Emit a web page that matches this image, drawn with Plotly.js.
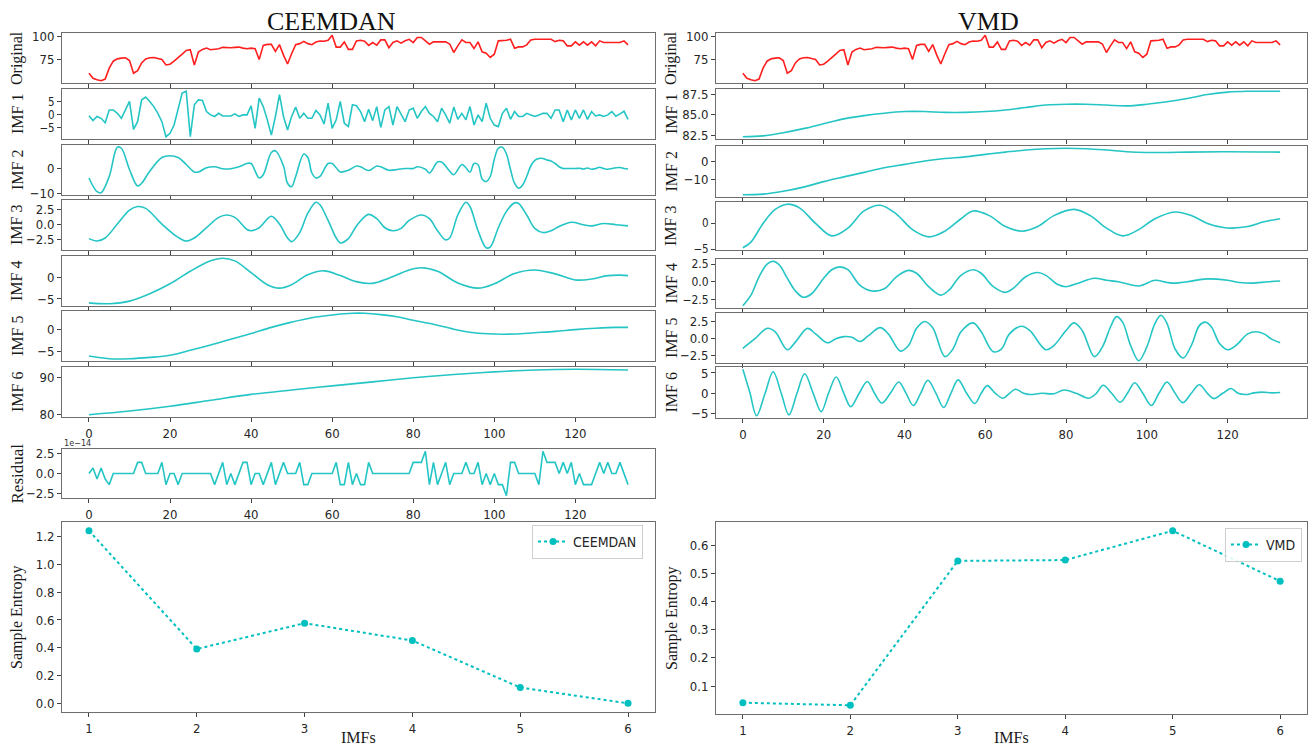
<!DOCTYPE html>
<html>
<head>
<meta charset="utf-8">
<script src="https://cdn.plot.ly/plotly-3.0.1.min.js"></script>
<style>
html,body{margin:0;padding:0;background:#fff;}
#chart{width:1311px;height:746px;}
</style>
</head>
<body>
<div id="chart"></div>
<script>
// ---------------- DATA ----------------
// Original series (same for both decompositions), one value per sample 0..133
const original = [60.5,55.1,53.6,52.5,54.3,66,73.5,76,76.8,77.2,74.2,60.5,63.4,71.7,76,77.2,77.5,76.8,75.4,69.5,
70.3,73.5,76.8,81.1,85.1,85.8,69.5,83.3,86.2,87.6,85.8,86.2,86.9,88.4,88,88,88.4,88.7,87.6,86.9,
87.6,86.9,75.4,90.5,91.6,91.6,84,91.3,80,70.5,81.5,91.3,92.4,94.9,92.4,91.3,94.2,95.3,94.9,96,
101.4,88.7,88.7,94.2,86.2,86.2,95.3,96,94.9,90.5,93.6,90.7,96.4,96.4,88,93.6,95.4,93,95.4,97,
93.6,99,99,95.4,91.8,94.3,94.3,93.6,94.3,92,82.9,90,96.4,93.6,93.6,87.1,94.3,83.6,82.1,77.5,
81,95.4,95.4,96,97.1,87.5,88.9,88.9,91.1,96.4,97.1,97.1,97.1,97.1,97.1,94.6,96,95.4,90,90,
94.3,90.7,94.3,90.7,94.3,90,95.4,93.6,93.6,93,93.6,93.6,95.4,91.1];

// CEEMDAN components
const ceemdanImf1 = [-0.3,-2.2,-0.6,-1.3,-3,1.9,1.9,0.6,-1.3,2,5.2,-5.6,-2.6,5.8,6.9,5.2,3.2,0.6,-2.6,-8.4,
-7.1,-3.9,1.9,8.4,9.1,-8.4,3.9,5.8,5.6,1.3,0,-0.6,0.6,-0.4,-0.4,-0.4,0.4,-0.6,0,0,
3.5,-5.2,6.5,3.2,-1.9,-7.8,-0.6,7.8,-0.6,-5.8,-0.6,3,-1.3,0.6,-1.3,-1.3,1.7,0,-3.5,4.5,
-5.2,-1.9,5.2,-3.2,-4.5,3.9,3.5,1.3,-2.6,2.2,-2.2,3.2,-4.8,1.9,3.2,-3.9,3.2,0,-2.6,1.9,
2.6,-1.3,1.3,3.2,0.6,-0.6,-2.6,2.6,0,-3.2,3,-1.7,0.6,-1.9,3.2,-3.9,0,-2.6,4.5,-1.3,
-3.9,-4.5,0.6,2.6,-1.7,1.3,-0.6,-0.6,0.6,0,-0.6,0,0.6,0.6,-1.3,1.9,1.9,-2.6,1.9,-1.9,
1.9,-1.3,1.9,-1.7,1.3,-0.4,0,-0.6,0,1.3,-0.5,0.4,1.4,-1.7];

const ceemdanImf2X = [0,2,3,5,7,8,10,12,13,15,18,20,22,24,26,27,29,31,33,35,37,39,40,42,43,45,46,48,49,50,
51,53,54,55,56,57,59,60,61,62,64,66,67,69,71,72,74,76,78,80,81,83,84,86,87,89,90,92,93,94,
95,96,97,98,99,100,101,102,103,104,105,106,107,108,109,110,111,112,113,114,115,116,117,118,120,121,122,123,124,125,
126,127,128,129,130,131,132,133];
const ceemdanImf2 = [-3.8,-9.3,-9.7,-3.2,8.5,8.1,-0.4,-7,-5.9,-1.1,4.4,5.1,4.4,1.6,-1.4,-1.4,0.3,0.7,-0.1,-0.1,
0.7,2,2,-3.8,-2.5,6.4,7.1,1,-5.9,-7.3,-3.2,5.8,4.4,-1.8,-3.8,-3.2,2,2,0.3,-1.4,
-0.7,1,0.7,-0.8,1,0.7,-0.7,-0.4,0,0,0.7,-0.3,-1.8,2.6,2.6,-1.1,-2.5,1.6,0.3,-1.5,
2,1.5,-4.2,-5.2,-3.2,3.7,8.1,8.5,5.8,-0.4,-5.9,-7.9,-6.6,-3.2,1,3.3,4,4,3.4,3,
2,0.7,0,0,0,0.1,-0.2,0.2,-0.3,0,0.5,0,-0.3,0,0.3,0.4,0,-0.2];

const ceemdanImf3X = [0,2,4,7,10,12,14,18,22,24,26,29,32,34,36,39,40,42,45,47,49,50,52,54,56,57,59,61,62,64,
66,68,69,71,73,75,77,79,82,84,86,88,89,91,93,94,96,98,99,101,103,105,106,108,110,112,114,116,119,122,124,127,130,133];
const ceemdanImf3 = [-2.3,-2.7,-2.2,0.1,2.4,3.0,2.7,0.1,-2.1,-2.7,-2.2,-0.5,1.2,1.6,1.2,-0.8,-1.0,-0.5,1.4,0.1,
-2.2,-2.8,-1.3,1.9,3.7,3.3,0.7,-2.2,-3.0,-2.3,-0.2,1.3,1.7,1.0,-0.5,-1.0,-0.6,0.7,1.6,1.0,
-1.0,-2.5,-2.2,1.6,3.7,3.0,-1.0,-3.8,-3.7,-0.5,2.2,3.6,3.5,1.6,-0.6,-1.3,-1.0,-0.3,0.4,0,-0.2,0.2,0,-0.2];

const ceemdanImf4X = [0,5,10,15,20,25,30,33,36,40,44,47,50,54,58,62,66,70,74,79,82,86,91,96,100,105,110,115,120,124,128,131,133];
const ceemdanImf4 = [-5.9,-6.1,-5.5,-3.8,-1.5,1.4,3.8,4.4,3.8,1.1,-1.7,-2.5,-1.7,0.6,1.5,0.4,-1.0,-1.4,-0.2,1.7,
2.2,1.4,-1.3,-2.5,-1.5,0.9,1.7,0.8,-0.6,-0.4,0.4,0.5,0.4];

const ceemdanImf5X = [0,5,10,15,20,25,30,35,40,45,50,55,60,65,68,72,76,80,85,90,95,100,105,110,115,120,125,130,133];
const ceemdanImf5 = [-6.1,-6.7,-6.7,-6.4,-5.9,-4.8,-3.6,-2.3,-1.0,0.4,1.6,2.6,3.2,3.6,3.6,3.3,2.8,2.0,1.1,0,
-0.8,-1.1,-1.1,-0.8,-0.5,-0.1,0.2,0.4,0.4];

const ceemdanImf6X = [0,10,20,30,40,50,60,70,80,90,100,110,120,133];
const ceemdanImf6 = [80.0,81.0,82.3,83.9,85.5,86.7,87.8,88.9,90.0,90.9,91.6,92.1,92.3,92.1];

// residual, in units of 1e-14
const residualScale = 1e-14;
const residualE14 = [0,0.71,-0.71,0.71,-0.71,-1.42,0,0,0,0,0,0,1.42,1.42,0,0,0,0,1.42,-1.42,
0,0,-1.42,0,0,0,0,0,0,0,0,-1.42,0,1.42,-1.42,0,-1.42,0,1.42,1.42,
-1.42,0,0,-1.42,0,1.42,-1.42,0,1.42,0,0,0,1.42,-1.42,-1.42,0,0,0,0,0,
0,1.42,-1.42,-1.42,1.42,-1.42,0,-1.42,-1.42,1.42,0,0,0,0,0,0,0,0,0,0,
1.42,1.42,1.42,2.84,-1.42,1.42,-1.42,0,1.42,-1.42,0,0,0,1.42,0,0,1.42,-1.42,0,-1.42,
0,-1.42,-1.42,-2.84,1.42,1.42,0,0,0,0,0,-1.42,2.84,1.42,1.42,1.42,0,1.42,0,1.42,
-1.42,0,-1.42,-1.42,-1.42,0,1.42,0,1.42,0,0,1.42,0,-1.42];

// VMD components
const vmdImf1X = [0,5,10,15,20,25,30,35,40,45,50,55,60,65,70,75,80,85,90,95,100,105,110,115,120,125,133];
const vmdImf1 = [82.3,82.4,82.8,83.3,83.9,84.5,84.9,85.2,85.4,85.4,85.3,85.3,85.4,85.6,85.9,86.2,86.3,86.3,86.2,86.1,
86.3,86.6,87.0,87.5,87.8,87.9,87.9];

const vmdImf2X = [0,5,10,15,20,25,30,35,40,45,50,55,60,65,70,75,80,85,90,95,100,105,110,120,133];
const vmdImf2 = [-17.8,-17.5,-16,-13.8,-10.9,-8.4,-6,-3.6,-1.8,0,1.3,2.2,3.5,4.7,5.8,6.5,6.7,6.5,5.8,4.9,
4.5,4.5,4.7,4.9,4.7];

const vmdImf3X = [0,2,5,8,11,14,18,22,26,30,34,38,42,46,50,54,57,61,65,69,73,77,82,86,90,94,98,102,107,111,
115,119,121,125,129,133];
const vmdImf3 = [-4.7,-3.6,0,2.7,3.7,3.0,0,-2.4,-0.9,2.4,3.5,1.8,-1.2,-2.6,-1.5,0.9,2.4,1.5,-0.6,-1.5,
-0.6,1.5,2.7,1.5,-0.9,-2.4,-1.2,0.9,2.2,1.5,0,-0.8,-0.9,-0.6,0.3,0.9];

const vmdImf4X = [0,2,4,6,7.5,9,11,13,15,17,20,22,24,26,29,32,35,38,41,43,46,49,51,54,57,59,62,65,67,70,
73,75,78,80,83,87,90,93,98,102,105,107,110,115,120,123,126,130,133];
const vmdImf4 = [-3.4,-1.9,0.7,2.5,2.9,2.4,0.5,-1.3,-2.2,-1.7,0.5,1.7,2.1,1.7,-0.5,-1.3,-1.0,0.7,1.6,1.2,
-0.7,-1.9,-1.2,0.9,1.7,1.2,-0.7,-1.5,-0.9,0.7,1.3,0.9,-0.4,-0.7,-0.2,0.5,0.2,0,-0.6,0.2,
-0.1,-0.2,0,0.4,0.2,-0.1,-0.2,0,0.1];

const vmdImf5X = [0,3,6,8,11,13,16,18,21,23,25,27,29,31,34,36,39,41,43,45,47,50,52,54,57,59,62,64,66,69,
71,75,77,80,82,84,87,89,91,92.5,94,96,98,100,102,103.5,105,107,109,111,113,114.5,116,118,120,122,125,127,129,131,133];
const vmdImf5 = [-1.4,0,1.5,1.0,-1.6,-0.5,1.5,0.7,-0.6,0,0.3,0.2,-0.4,0.4,1.6,0.7,-1.8,-1.0,1.5,2.5,
1.6,-2.6,-1.5,1.0,2.3,1.0,-1.9,-1.5,0.7,1.8,1.2,-1.6,-1.0,1.2,2.3,1.2,-2.6,-1.2,1.7,3.2,
2.4,-1.0,-3.2,-1.2,2.2,3.4,2.2,-1.5,-2.8,-1.0,1.9,2.4,1.7,-0.7,-1.6,-1.0,0.7,1.0,0.7,-0.1,-0.6];

const vmdImf6X = [0,1.7,3.4,5.5,7.5,9.5,11.4,13.4,15.3,17.4,19.4,21.2,23.1,25,26.7,28.8,30.8,32.6,34.4,36.5,
38.6,40.4,42.2,44,45.8,47.8,49.7,51.5,53.3,55.4,57.4,59,60.5,62.5,64.4,66,67.5,69.5,71.1,74,
77,79.5,82.5,85.6,87.5,89.2,91.3,93.4,95.2,97,99,101.1,103,105,107,108.9,111,113,115,116.6,
118.8,120.8,122.6,124.4,126.5,128.5,131,133];
const vmdImf6 = [5.9,0.3,-5.5,0,5.3,0,-5.3,0,4.8,0,-4.5,0,4.0,0,-3.3,0,2.9,0,-2.4,0,
2.8,0,-3.0,0,3.2,0,-3.5,0,3.3,0,-2.5,0,1.9,0,-1.2,0,1.0,0,-0.3,0,
-0.1,0.8,0,-1.2,0,2.0,0,-2.2,0,2.6,0,-3.0,0,2.8,0,-2.3,0,2.1,0,-1.3,
0,1.2,0,-0.3,0.1,0.3,0.1,0.2];

// Sample entropy per IMF
const imfIndex = [1,2,3,4,5,6];
const ceemdanEntropy = [1.243,0.391,0.577,0.452,0.114,0.0];
const vmdEntropy = [0.041,0.032,0.544,0.547,0.651,0.472];

// ---------------- LAYOUT / DRAWING ----------------
const W = 1311, H = 746;
const SANS = "'DejaVu Sans Condensed', 'DejaVu Sans', 'Liberation Sans', sans-serif";
const SERIF = "'Liberation Serif', 'DejaVu Serif', serif";
const RED = '#ff1f1f', CYAN = '#25c5c5', ECYAN = '#00bfbf';
const TICK = 13;
const fx = px => px / W;
const fy = px => 1 - px / H;
const samples = original.map((_, i) => i);

function pad5(arr) {
  const mn = Math.min(...arr), mx = Math.max(...arr), s = mx - mn;
  return [mn - 0.05 * s, mx + 0.05 * s];
}

const LEFTX = [62, 655], RIGHTX = [716, 1307];

const panels = [
  {col: LEFTX, lab: 'Original', x: samples, y: original, color: RED, dtick: 25, fmt: 'd', v: [33, 83]},
  {col: LEFTX, lab: 'IMF 1', x: samples, y: ceemdanImf1, dtick: 5, fmt: 'd', v: [89, 139], fs: 11.5},
  {col: LEFTX, lab: 'IMF 2', x: ceemdanImf2X, y: ceemdanImf2, spline: true, dtick: 10, fmt: 'd', v: [145, 195]},
  {col: LEFTX, lab: 'IMF 3', x: ceemdanImf3X, y: ceemdanImf3, spline: true, dtick: 2.5, fmt: '.1f', v: [200, 250]},
  {col: LEFTX, lab: 'IMF 4', x: ceemdanImf4X, y: ceemdanImf4, spline: true, dtick: 5, fmt: 'd', v: [256, 306]},
  {col: LEFTX, lab: 'IMF 5', x: ceemdanImf5X, y: ceemdanImf5, spline: true, dtick: 5, fmt: 'd', v: [311, 361]},
  {col: LEFTX, lab: 'IMF 6', x: ceemdanImf6X, y: ceemdanImf6, spline: true, dtick: 10, fmt: 'd', v: [367, 417], showX: true},
  {col: LEFTX, lab: 'Residual', x: samples, y: residualE14, dtick: 2.5, fmt: '.1f', v: [449, 498], showX: true},
  {col: RIGHTX, lab: 'Original', x: samples, y: original, color: RED, dtick: 25, fmt: 'd', v: [33, 83]},
  {col: RIGHTX, lab: 'IMF 1', x: vmdImf1X, y: vmdImf1, spline: true, dtick: 2.5, fmt: '.1f', v: [89, 139]},
  {col: RIGHTX, lab: 'IMF 2', x: vmdImf2X, y: vmdImf2, spline: true, dtick: 10, fmt: 'd', v: [146, 197]},
  {col: RIGHTX, lab: 'IMF 3', x: vmdImf3X, y: vmdImf3, spline: true, dtick: 5, fmt: 'd', v: [202, 250], fs: 11.5},
  {col: RIGHTX, lab: 'IMF 4', x: vmdImf4X, y: vmdImf4, spline: true, dtick: 2.5, fmt: '.1f', v: [259, 308], fs: 12},
  {col: RIGHTX, lab: 'IMF 5', x: vmdImf5X, y: vmdImf5, spline: true, dtick: 2.5, fmt: '.1f', v: [313, 363]},
  {col: RIGHTX, lab: 'IMF 6', x: vmdImf6X, y: vmdImf6, spline: true, dtick: 5, fmt: 'd', v: [367, 418], showX: true}
];

const common = {
  showline: true, mirror: true, linecolor: '#6e6e6e', linewidth: 1,
  ticks: 'outside', ticklen: 4, tickwidth: 1, tickcolor: '#444',
  showgrid: false, zeroline: false, fixedrange: true,
  tickfont: {family: SANS, size: TICK, color: '#262626'}
};

const layout = {
  width: W, height: H, autosize: false,
  margin: {l: 0, r: 0, t: 0, b: 0},
  paper_bgcolor: '#ffffff', plot_bgcolor: '#ffffff',
  font: {family: SANS, size: TICK, color: '#262626'},
  showlegend: true,
  annotations: []
};
const traces = [];
let axCount = 0;

function addAxes(xPx, yPx, xcfg, ycfg) {
  axCount++;
  const s = axCount === 1 ? '' : String(axCount);
  layout['xaxis' + s] = Object.assign({}, common, {domain: [fx(xPx[0]), fx(xPx[1])], anchor: 'y' + s}, xcfg);
  layout['yaxis' + s] = Object.assign({}, common, {domain: [fy(yPx[1]), fy(yPx[0])], anchor: 'x' + s}, ycfg);
  return s;
}

function yLabel(text, xPx, yPx, size) {
  layout.annotations.push({
    text: text, xref: 'paper', yref: 'paper', x: fx(xPx), y: fy(yPx),
    showarrow: false, textangle: -90, xanchor: 'center', yanchor: 'middle',
    font: {family: SERIF, size: size || 16, color: '#1a1a1a'}
  });
}

const xr = pad5(samples);
panels.forEach(p => {
  const ycfg = {range: pad5(p.y), tick0: 0, dtick: p.dtick, tickformat: p.fmt === 'd' ? '' : p.fmt};
  if (p.fs) ycfg.tickfont = {family: SANS, size: p.fs, color: '#262626'};
  const s = addAxes(p.col, p.v, {range: xr, tick0: 0, dtick: 20, showticklabels: !!p.showX}, ycfg);
  traces.push({
    type: 'scatter', mode: 'lines', x: p.x, y: p.y,
    xaxis: 'x' + s, yaxis: 'y' + s,
    line: {color: p.color || CYAN, width: 1.6, shape: p.spline ? 'spline' : 'linear'},
    showlegend: false, hoverinfo: 'skip'
  });
  const labX = p.col === LEFTX ? 17 : 671;
  yLabel(p.lab, labX, (p.v[0] + p.v[1]) / 2, p.lab === 'Residual' ? 17 : 16);
});

// residual offset text
layout.annotations.push({
  text: '1e\u221214', xref: 'paper', yref: 'paper', x: fx(62), y: fy(443),
  showarrow: false, xanchor: 'left', yanchor: 'middle',
  font: {family: SANS, size: 9, color: '#333'}
});

// entropy panels
const exr = pad5(imfIndex);
const sL = addAxes(LEFTX, [522, 712], {range: exr, tick0: 1, dtick: 1}, {range: pad5(ceemdanEntropy), tick0: 0, dtick: 0.2, tickformat: '.1f'});
const sR = addAxes(RIGHTX, [522, 714], {range: exr, tick0: 1, dtick: 1}, {range: pad5(vmdEntropy), tick0: 0, dtick: 0.1, tickformat: '.1f'});

traces.push({
  type: 'scatter', mode: 'lines+markers', name: 'CEEMDAN', x: imfIndex, y: ceemdanEntropy,
  xaxis: 'x' + sL, yaxis: 'y' + sL, legend: 'legend',
  line: {color: ECYAN, width: 2, dash: 'dot'}, marker: {color: ECYAN, size: 7}, hoverinfo: 'skip'
});
traces.push({
  type: 'scatter', mode: 'lines+markers', name: 'VMD', x: imfIndex, y: vmdEntropy,
  xaxis: 'x' + sR, yaxis: 'y' + sR, legend: 'legend2',
  line: {color: ECYAN, width: 2, dash: 'dot'}, marker: {color: ECYAN, size: 7}, hoverinfo: 'skip'
});

const legStyle = {
  xref: 'paper', yref: 'paper', xanchor: 'right', yanchor: 'top',
  bgcolor: 'rgba(255,255,255,0.85)', bordercolor: '#cfcfcf', borderwidth: 1,
  font: {family: SANS, size: 14, color: '#262626'}, itemwidth: 30
};
layout.legend = Object.assign({}, legStyle, {x: fx(643), y: fy(525)});
layout.legend2 = Object.assign({}, legStyle, {x: fx(1302), y: fy(528)});

yLabel('Sample Entropy', 17, 617, 16);
yLabel('Sample Entropy', 672, 618, 16);

[[(LEFTX[0] + LEFTX[1]) / 2, 'IMFs'], [(RIGHTX[0] + RIGHTX[1]) / 2, 'IMFs']].forEach(([cx, t]) => {
  layout.annotations.push({
    text: t, xref: 'paper', yref: 'paper', x: fx(cx), y: fy(737),
    showarrow: false, xanchor: 'center', yanchor: 'middle',
    font: {family: SERIF, size: 16, color: '#1a1a1a'}
  });
});

// column titles
[[331, 'CEEMDAN'], [988, 'VMD']].forEach(([cx, t]) => {
  layout.annotations.push({
    text: t, xref: 'paper', yref: 'paper', x: fx(cx), y: fy(21),
    showarrow: false, xanchor: 'center', yanchor: 'middle',
    font: {family: SERIF, size: 26, color: '#111'}
  });
});

Plotly.newPlot('chart', traces, layout, {displayModeBar: false, staticPlot: true});
</script>
</body>
</html>
